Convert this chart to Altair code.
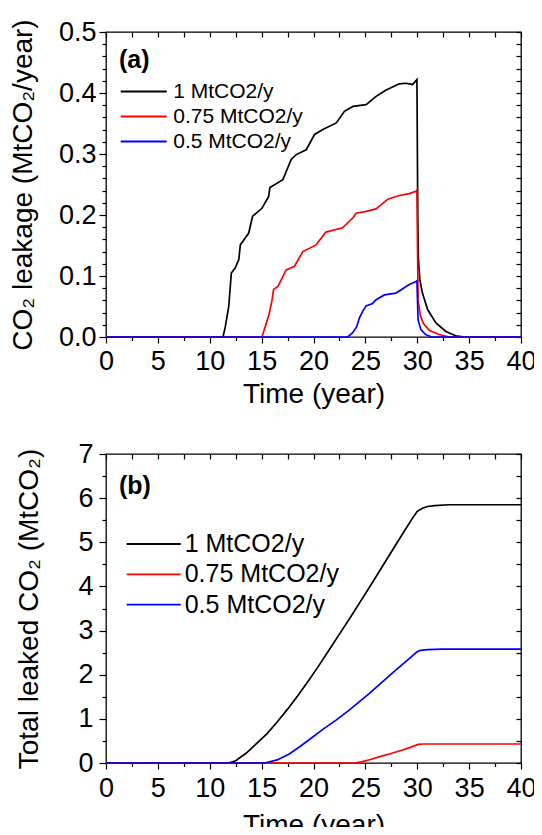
import altair as alt
import pandas as pd

FONT = "Liberation Sans"
SERIES = ["1 MtCO2/y", "0.75 MtCO2/y", "0.5 MtCO2/y"]
COLORS = ["#000000", "#ff0000", "#0000ff"]

# ---------- Panel (a): leakage rate (MtCO2/year) ----------
a_black_t = [0, 11.28, 11.5, 11.83, 12.08, 12.45, 12.8, 12.95, 13.4, 13.75, 14.13, 15.03, 15.67, 15.8,
             17.05, 17.85, 18.33, 19.3, 20.1, 20.9, 22.2, 22.98, 23.8, 25.07, 26.0, 27.0, 28.27, 28.9,
             29.55, 29.97, 30.05, 30.1, 30.25, 30.5, 31.0, 31.8, 32.76, 33.7, 34.6, 40]
a_black_v = [0, 0, 0.017, 0.05, 0.105, 0.113, 0.127, 0.151, 0.162, 0.170, 0.198, 0.211, 0.23, 0.245,
             0.258, 0.291, 0.299, 0.307, 0.332, 0.34, 0.351, 0.370, 0.378, 0.381, 0.394, 0.405, 0.415, 0.416,
             0.414, 0.422, 0.20, 0.13, 0.094, 0.072, 0.045, 0.023, 0.009, 0.002, 0, 0]

a_red_t = [0, 15.03, 15.35, 15.7, 16.0, 16.15, 16.57, 16.9, 17.37, 18.17, 18.97, 20.25, 21.2, 22.8,
           23.78, 24.1, 25.07, 26.03, 27.15, 28.27, 29.23, 29.88, 29.97, 30.08, 30.3, 30.6, 31.15,
           32.1, 33.1, 40]
a_red_v = [0, 0, 0.017, 0.036, 0.06, 0.078, 0.083, 0.094, 0.110, 0.116, 0.140, 0.151, 0.172, 0.179,
           0.195, 0.203, 0.206, 0.210, 0.226, 0.232, 0.235, 0.239, 0.241, 0.06, 0.035, 0.022, 0.011,
           0.004, 0, 0]

a_blue_t = [0, 23.3, 23.78, 24.17, 24.42, 24.74, 25.07, 25.7, 26.03, 26.83, 27.95, 28.6, 29.23, 29.88,
            29.97, 30.08, 30.35, 30.8, 31.4, 40]
a_blue_v = [0, 0, 0.007, 0.017, 0.031, 0.042, 0.051, 0.055, 0.061, 0.069, 0.072, 0.079, 0.086, 0.091,
            0.092, 0.028, 0.012, 0.004, 0, 0]

# ---------- Panel (b): total leaked CO2 (MtCO2) ----------
b_black_t = [0, 11.8, 12.5, 13.5, 14.5, 15.5, 16.5, 17.5, 18.5, 19.5, 20.5, 21.5, 22.5, 23.5, 24.5,
             25.5, 26.5, 27.5, 28.5, 29.5, 30.0, 30.5, 31.0, 31.7, 33.0, 40]
b_black_v = [0, 0, 0.05, 0.22, 0.44, 0.66, 0.93, 1.22, 1.53, 1.86, 2.2, 2.56, 2.92, 3.28, 3.65,
             4.02, 4.4, 4.78, 5.16, 5.53, 5.70, 5.77, 5.81, 5.83, 5.85, 5.85]

b_red_t = [0, 24.0, 24.7, 25.5, 26.3, 27.4, 28.5, 29.4, 30.1, 30.6, 40]
b_red_v = [0, 0, 0.03, 0.08, 0.14, 0.21, 0.29, 0.36, 0.42, 0.43, 0.43]

b_blue_t = [0, 15.3, 16.5, 17.7, 18.8, 19.93, 21.0, 22.17, 23.5, 25.36, 26.5, 27.9, 29.0, 29.98,
            30.3, 31.0, 32.4, 40]
b_blue_v = [0, 0, 0.07, 0.21, 0.39, 0.59, 0.78, 0.97, 1.21, 1.57, 1.81, 2.10, 2.32, 2.52,
            2.55, 2.57, 2.58, 2.58]


def long_df(parts):
    rows = []
    for name, ts, vs in parts:
        for i, (t, v) in enumerate(zip(ts, vs)):
            rows.append({"series": name, "t": t, "v": v, "i": i})
    return pd.DataFrame(rows)


df_a = long_df([(SERIES[0], a_black_t, a_black_v),
                (SERIES[1], a_red_t, a_red_v),
                (SERIES[2], a_blue_t, a_blue_v)])
df_b = long_df([(SERIES[0], b_black_t, b_black_v),
                (SERIES[1], b_red_t, b_red_v),
                (SERIES[2], b_blue_t, b_blue_v)])

XVALS = [i * 2.5 for i in range(17)]
XMAJOR = "datum.value % 5 === 0"


def panel(df, ymax, yvals, ymajor, yfmt, ytitle, tag, p):
    xscale = alt.Scale(domain=[0, 40], nice=False, zero=False)
    yscale = alt.Scale(domain=[0, ymax], nice=False, zero=False)

    x_bottom = alt.Axis(
        orient="bottom", values=XVALS, title="Time (year)",
        labelExpr=f"{XMAJOR} ? format(datum.value, 'd') : ''",
        tickSize={"condition": {"test": XMAJOR, "value": 6}, "value": 3.5},
        labelFontSize=p["xfs"], labelPadding=p["xlp"], labelOverlap=False, labelFlush=False,
        titleFontSize=28, titleY=p["xty"], titleBaseline="top",
    )
    y_left = alt.Axis(
        orient="left", values=yvals, title=ytitle,
        labelExpr=f"{ymajor} ? format(datum.value, '{yfmt}') : ''",
        tickSize={"condition": {"test": ymajor, "value": 7}, "value": 4},
        labelFontSize=p["yfs"], labelPadding=p["ylp"], labelOverlap=False, labelFlush=False,
        titleFontSize=28, titleX=p["ytx"], titleBaseline="alphabetic",
    )
    half = p["ll"] / 2.0
    legend = alt.Legend(
        title=None, orient="none", legendX=p["lx"], legendY=p["ly"],
        symbolType="M-2,0H2", symbolSize=half ** 2, symbolStrokeWidth=1.8,
        labelFont=FONT, labelFontSize=p["lfs"], labelColor="black",
        rowPadding=p["lrp"], padding=0, labelOffset=p["lo"], symbolOffset=0,
    )
    lines = alt.Chart(df).mark_line(strokeWidth=1.7).encode(
        x=alt.X("t:Q", scale=xscale, axis=x_bottom),
        y=alt.Y("v:Q", scale=yscale, axis=y_left),
        color=alt.Color("series:N", scale=alt.Scale(domain=SERIES, range=COLORS),
                        sort=SERIES, legend=legend),
        order=alt.Order("i:Q"),
    )
    # invisible layer carrying the inward ticks of the top and right frame
    x_top = alt.Axis(orient="top", values=XVALS, labels=False, title=None,
                     tickSize=5, offset=-5)
    y_right = alt.Axis(orient="right", values=yvals, labels=False, title=None,
                       tickSize=5, offset=-5)
    frame = alt.Chart(df).mark_line(opacity=0).encode(
        x=alt.X("t:Q", scale=xscale, axis=x_top),
        y=alt.Y("v:Q", scale=yscale, axis=y_right),
        detail="series:N",
        order=alt.Order("i:Q"),
    )
    tag_text = alt.Chart(pd.DataFrame({"tag": [tag]})).mark_text(
        align="left", baseline="alphabetic", font=FONT, fontSize=25,
        fontWeight="bold", color="black",
    ).encode(text="tag:N", x=alt.value(p["tdx"]), y=alt.value(p["tdy"]))
    return alt.layer(lines, frame, tag_text).resolve_axis(
        x="independent", y="independent"
    ).properties(width=p["w"], height=p["h"])


yvals_a = [round(i * 0.02, 2) for i in range(26)]
yvals_b = [i * 0.5 for i in range(15)]

pa = dict(w=415, h=305, xfs=27, xlp=5, xty=43, yfs=27, ylp=3, ytx=-75,
          lx=25.2, ly=47, ll=46, lfs=21, lrp=2, lo=17, tdx=13, tdy=36)
pb = dict(w=415, h=309, xfs=27, xlp=6, xty=48, yfs=27, ylp=6, ytx=-69,
          lx=33.2, ly=75.5, ll=54, lfs=25, lrp=2.3, lo=16.5, tdx=13, tdy=40)

chart_a = panel(df_a, 0.5, yvals_a,
                "abs(datum.value * 10 - round(datum.value * 10)) < 0.001", ".1f",
                "CO\u2082 leakage (MtCO\u2082/year)", "(a)", pa)
chart_b = panel(df_b, 7, yvals_b, "datum.value % 1 === 0", "d",
                "Total leaked CO\u2082 (MtCO\u2082)", "(b)", pb)

# fixed canvas: with autosize "none" the concat contributes width 415 and
# height 0, so the padding makes the canvas 526 x 819 px (fits the 542 x 835
# page with its 8 px margins); plot (a) origin at page (106, 32)
chart = alt.vconcat(chart_a, chart_b, spacing=117, bounds="flush").resolve_scale(
    color="independent"
).resolve_legend(
    color="independent"
).properties(
    autosize=alt.AutoSizeParams(type="none"),
    padding={"left": 98, "top": 24, "right": 13, "bottom": 795},
    background="white",
).configure_view(
    stroke="black", strokeWidth=1.3,
).configure_axis(
    domain=False, grid=False, tickColor="black", tickWidth=1.2,
    labelColor="black", titleColor="black", labelFont=FONT, titleFont=FONT,
    titleFontWeight="normal",
)

chart.save("out.html", embed_options={"renderer": "svg", "actions": False})
